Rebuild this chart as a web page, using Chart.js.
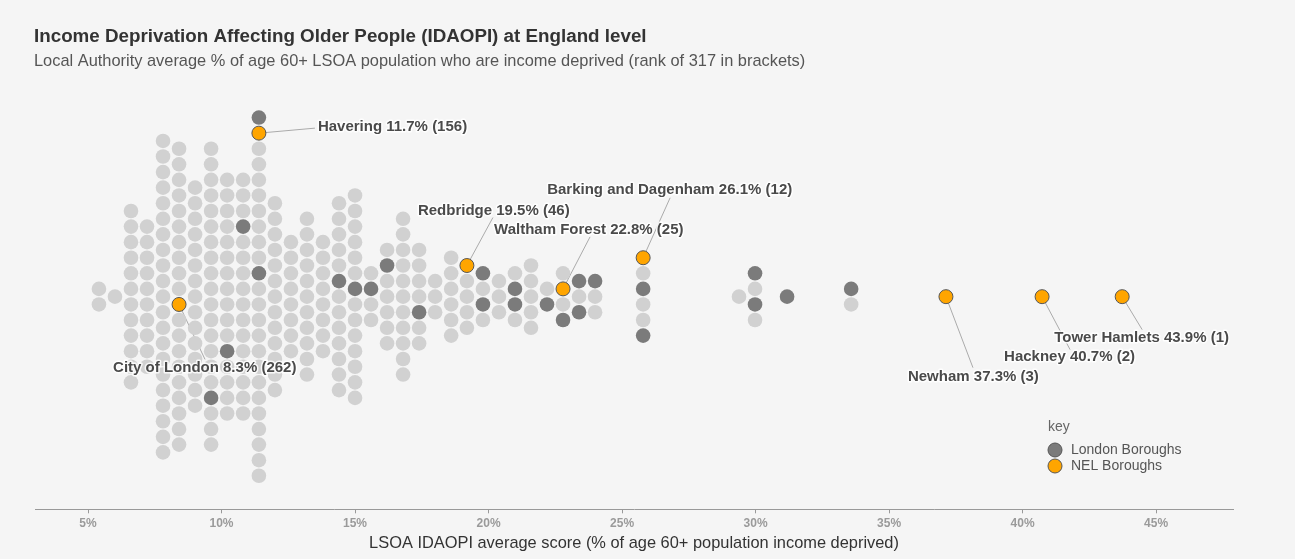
<!DOCTYPE html>
<html>
<head>
<meta charset="utf-8">
<script src="https://cdn.jsdelivr.net/npm/chart.js@4.4.1/dist/chart.umd.min.js"></script>
<style>
  html, body { margin: 0; padding: 0; background: #f5f5f5; }
  #wrap { width: 1295px; height: 559px; background: #f5f5f5; }
</style>
</head>
<body>
<div id="wrap"><canvas id="swarm" width="1295" height="559"></canvas></div>
<script>
'use strict';

// x value (%) of each column of the swarm
const colValues = [5.41, 6.01, 6.61, 7.21, 7.81, 8.41, 9.01, 9.61, 10.21, 10.81,
  11.40, 12.00, 12.60, 13.20, 13.80, 14.40, 15.00, 15.60, 16.20, 16.80,
  17.40, 18.00, 18.60, 19.19, 19.79, 20.39, 20.99, 21.59, 22.19, 22.79,
  23.39, 23.99, 25.79, 29.38, 29.98, 31.18, 33.58, 37.13, 40.73, 43.73];

// local authorities in each column, top to bottom
// o = other England LA, L = London borough, N = NEL borough (spaces only for counting)
const colStacks = ['oo', 'o', 'ooooo ooooo oo', 'ooooo ooooo', 'ooooo ooooo ooooo ooooo o',
  'ooooo ooooo Noooo ooooo', 'ooooo ooooo ooooo', 'ooooo ooooo ooooo oLooo', 'ooooo ooooo oLooo o', 'oooLo ooooo ooooo o',
  'LNooo ooooo Loooo ooooo oooo', 'ooooo ooooo ooo', 'ooooo ooo', 'ooooo ooooo o', 'ooooo ooo',
  'ooooo Loooo ooo', 'ooooo oLooo oooo', 'oLoo', 'oLooo oo', 'ooooo ooooo o',
  'ooooL oo', 'ooo', 'ooooo o', 'Noooo', 'LoLo', 'ooo', 'oLLo', 'ooooo', 'oL', 'oNoL',
  'LoL', 'Loo', 'NoLoo L', 'o', 'LoLo', 'L', 'Lo', 'N', 'N', 'N'];

// NEL boroughs, left to right
const nelNames = ['City of London', 'Havering', 'Redbridge', 'Waltham Forest',
  'Barking and Dagenham', 'Newham', 'Hackney', 'Tower Hamlets'];
const nelScores = [8.3, 11.7, 19.5, 22.8, 26.1, 37.3, 40.7, 43.9];
const nelRanks = [262, 156, 46, 25, 12, 3, 2, 1];

const tickValues = [5, 10, 15, 20, 25, 30, 35, 40, 45];

// label placement: text offset and leader line end, px from the dot
const labelPos = [
  [-66, 63, 26, 55],
  [59, -6, 56, -5],
  [-49, -55, 26, -48],
  [-69, -59, 27, -52],
  [-96, -68, 27, -60],
  [-38, 80, 27, 71],
  [-38, 60, 28, 53],
  [-68, 41, 20, 33]
];

const FONT = '"Liberation Sans", Arial, sans-serif';
const GREY = '#d1d1d1';
const LONDON = '#7b7b7b';
const NEL = '#ffa500';

// stack each column around the centre line (1 y unit = 1 dot)
const others = [], london = [], nel = [];
colStacks.forEach((s, c) => {
  const stack = s.replace(/ /g, '');
  const n = stack.length;
  for (let i = 0; i < n; i++) {
    const p = { x: colValues[c], y: (n - 1) / 2 - i };
    if (stack[i] === 'L') london.push(p);
    else if (stack[i] === 'N') nel.push(p);
    else others.push(p);
  }
});

const titles = {
  id: 'titles',
  beforeDraw(chart) {
    const ctx = chart.ctx;
    ctx.save();
    ctx.textBaseline = 'middle';
    ctx.textAlign = 'left';
    ctx.fillStyle = '#333';
    ctx.font = 'bold 18.8px ' + FONT;
    ctx.fillText('Income Deprivation Affecting Older People (IDAOPI) at England level', 34, 37);
    ctx.fillStyle = '#555';
    ctx.font = '16.4px ' + FONT;
    ctx.fillText('Local Authority average % of age 60+ LSOA population who are income deprived (rank of 317 in brackets)', 34, 61);

    // key
    ctx.font = '14px ' + FONT;
    ctx.fillStyle = '#666';
    ctx.fillText('key', 1048, 427);
    [[LONDON, 'London Boroughs', 450], [NEL, 'NEL Boroughs', 466]].forEach(([col, txt, y]) => {
      ctx.beginPath();
      ctx.arc(1055, y, 7, 0, Math.PI * 2);
      ctx.fillStyle = col;
      ctx.fill();
      ctx.lineWidth = 1;
      ctx.strokeStyle = '#555';
      ctx.stroke();
      ctx.fillStyle = '#555';
      ctx.fillText(txt, 1071, y);
    });
    ctx.restore();
  },
  beforeDatasetsDraw(chart) {
    const ctx = chart.ctx;
    const pts = chart.getDatasetMeta(2).data;
    ctx.save();
    ctx.strokeStyle = '#aaa';
    ctx.lineWidth = 1;
    pts.forEach((pt, k) => {
      const o = labelPos[k];
      ctx.beginPath();
      ctx.moveTo(pt.x, pt.y);
      ctx.lineTo(pt.x + o[2], pt.y + o[3]);
      ctx.stroke();
    });
    ctx.restore();
  },
  afterDatasetsDraw(chart) {
    const ctx = chart.ctx;
    const pts = chart.getDatasetMeta(2).data;
    ctx.save();
    ctx.font = 'bold 15px ' + FONT;
    ctx.textBaseline = 'middle';
    ctx.textAlign = 'left';
    ctx.lineJoin = 'round';
    pts.forEach((pt, k) => {
      const o = labelPos[k];
      const txt = nelNames[k] + ' ' + nelScores[k] + '% (' + nelRanks[k] + ')';
      ctx.strokeStyle = 'rgba(255,255,255,0.85)';
      ctx.lineWidth = 3;
      ctx.strokeText(txt, pt.x + o[0], pt.y + o[1]);
      ctx.fillStyle = '#4a4a4a';
      ctx.fillText(txt, pt.x + o[0], pt.y + o[1]);
    });
    ctx.restore();
  }
};

new Chart(document.getElementById('swarm').getContext('2d'), {
  type: 'scatter',
  data: {
    datasets: [
      { label: 'Other', data: others, backgroundColor: GREY, borderWidth: 0, pointRadius: 7.3 },
      { label: 'London Boroughs', data: london, backgroundColor: LONDON, borderWidth: 0, pointRadius: 7.3 },
      { label: 'NEL Boroughs', data: nel, backgroundColor: NEL, borderColor: '#555', borderWidth: 1, pointRadius: 7 }
    ]
  },
  options: {
    responsive: false,
    animation: false,
    events: [],
    devicePixelRatio: 1,
    layout: { padding: { left: 35, right: 62, top: 95, bottom: 1.6 } },
    plugins: { legend: { display: false }, tooltip: { enabled: false } },
    scales: {
      x: {
        type: 'linear',
        min: 3.015,
        max: 47.88,
        afterBuildTicks: s => { s.ticks = tickValues.map(v => ({ value: v })); },
        border: { display: true, color: '#999', width: 1 },
        grid: { drawOnChartArea: false, drawTicks: true, tickLength: 4, color: '#999' },
        ticks: { padding: 3, color: '#9a9a9a', font: { family: FONT, size: 12, weight: 'bold' }, callback: v => v + '%' },
        title: { display: true, text: 'LSOA IDAOPI average score (% of age 60+ population income deprived)', color: '#333', font: { family: FONT, size: 16.4 }, padding: { top: 0, bottom: 4 } }
      },
      y: { display: false, min: -13.654, max: 12.949 }
    }
  },
  plugins: [titles]
});
</script>
</body>
</html>
